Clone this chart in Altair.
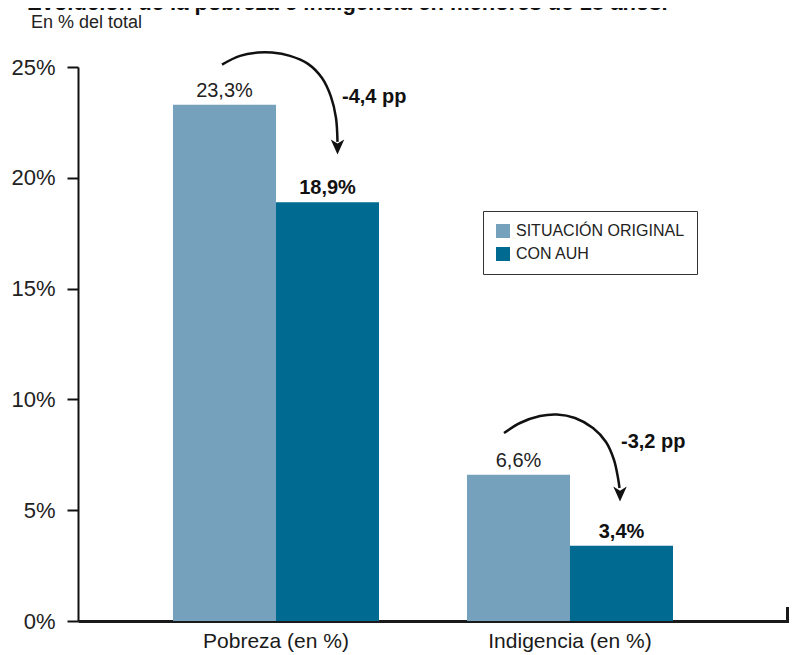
import altair as alt
import pandas as pd

# ---------------- data ----------------
categories = ["Pobreza (en %)", "Indigencia (en %)"]
series_names = ["SITUACIÓN ORIGINAL", "CON AUH"]
original = [23.3, 6.6]
con_auh = [18.9, 3.4]
y_ticks = [0, 5, 10, 15, 20, 25]

# annotation arrows: x in category units (0 = centre of first category), y in %
arrow1_x = [-0.1837, -0.1224, -0.0612, -0.0136, 0.0476, 0.1088, 0.1565, 0.1871, 0.2041, 0.2092]
arrow1_y = [25.11, 25.50, 25.65, 25.65, 25.50, 25.14, 24.50, 23.65, 22.70, 21.62]
arrow2_x = [0.7755, 0.8299, 0.8980, 0.9558, 1.0170, 1.0782, 1.1224, 1.1497, 1.1633, 1.1684]
arrow2_y = [8.484, 8.935, 9.251, 9.319, 9.161, 8.709, 8.078, 7.265, 6.453, 6.002]
head_x = [0.2092, 1.1701]
head_y = [21.39, 5.73]
change_x = [0.2245, 1.1735]
change_y = [23.375, 7.807]

title_text = "Evolución de la pobreza e indigencia en menores de 18 años."
subtitle_text = "En % del total"

LIGHT = "#75a1bc"
DARK = "#006a91"
FONT = "Liberation Sans"
INK = "#1a1a1a"

W = 711
H = 554


def fmt(v):
    return f"{v:.1f}".replace(".", ",") + "%"


rows = []
for c, o, a in zip(categories, original, con_auh):
    rows.append({"cat": c, "serie": series_names[0], "valor": o, "label": fmt(o)})
    rows.append({"cat": c, "serie": series_names[1], "valor": a, "label": fmt(a)})
df = pd.DataFrame(rows)

path_rows = []
for aid, (xs, ys) in enumerate([(arrow1_x, arrow1_y), (arrow2_x, arrow2_y)]):
    for i, (u, p) in enumerate(zip(xs, ys)):
        path_rows.append({"arrow": aid, "i": i, "u": u, "pct": p})
paths = pd.DataFrame(path_rows)
heads = pd.DataFrame({"u": head_x, "pct": head_y})
changes = pd.DataFrame({
    "u": change_x,
    "pct": change_y,
    "txt": ["-" + f"{o - a:.1f}".replace(".", ",") + " pp" for o, a in zip(original, con_auh)],
})

# ---------------- encodings ----------------
y_scale = alt.Scale(domain=[0, 25], nice=False, zero=True)
y_axis = alt.Axis(values=y_ticks, title=None, grid=False, labelExpr="datum.value + '%'",
                  domainColor="#111", domainWidth=2, tickColor="#111", tickWidth=2, tickSize=11,
                  labelPadding=12, labelFont=FONT, labelFontSize=22, labelColor="#222")
x_enc = alt.X(
    "cat:N", sort=categories,
    scale=alt.Scale(paddingInner=0.2993, paddingOuter=0.3588, align=0.4502),
    axis=alt.Axis(title=None, labelAngle=0, ticks=False, domainWidth=3, domainColor=INK,
                  labelFont=FONT, labelFontSize=21, labelColor=INK, labelPadding=9),
)
xoff = alt.XOffset("serie:N", sort=series_names, scale=alt.Scale(paddingInner=0, paddingOuter=0))
y_enc = alt.Y("valor:Q", scale=y_scale, axis=y_axis)

bars = alt.Chart(df).mark_bar().encode(
    x=x_enc, xOffset=xoff, y=y_enc,
    color=alt.Color(
        "serie:N", sort=series_names,
        scale=alt.Scale(domain=series_names, range=[LIGHT, DARK]),
        legend=alt.Legend(title=None, orient="none", legendX=405, legendY=144,
                          symbolType="square", symbolSize=196, symbolStrokeWidth=0,
                          labelFont=FONT, labelFontSize=16, labelColor="#222",
                          padding=12, rowPadding=7, strokeColor="#333", fillColor="white",
                          labelOffset=5, labelLimit=400),
    ),
)

text_orig = alt.Chart(df).transform_filter(alt.datum.serie == series_names[0]).mark_text(
    dy=-8, baseline="alphabetic", fontSize=20, font=FONT, color="#222"
).encode(x=x_enc, xOffset=xoff, y=y_enc, text="label:N")

text_auh = alt.Chart(df).transform_filter(alt.datum.serie == series_names[1]).mark_text(
    dy=-8, baseline="alphabetic", fontSize=20, font=FONT, fontWeight="bold", color="#111"
).encode(x=x_enc, xOffset=xoff, y=y_enc, text="label:N")

bar_group = alt.layer(bars, text_orig, text_auh)

ux = alt.X("u:Q", scale=alt.Scale(domain=[-0.6735, 1.7449], nice=False, zero=False), axis=None)
uy = alt.Y("pct:Q", scale=y_scale, axis=y_axis)

lines = alt.Chart(paths).mark_line(interpolate="catmull-rom", color="#111", strokeWidth=2.5).encode(
    x=ux, y=uy, detail="arrow:N", order="i:Q"
)
arrowheads = alt.Chart(heads).mark_point(
    shape="M-0.9,-1L0,-0.45L0.9,-1L0,1Z", filled=True, size=225, color="#111", opacity=1
).encode(x=ux, y=uy)
change_text = alt.Chart(changes).mark_text(
    align="left", baseline="alphabetic", fontSize=20, font=FONT, fontWeight="bold", color="#111"
).encode(x=ux, y=uy, text="txt:N")

# small closing tick at the right end of the baseline
end_tick = alt.Chart(heads).mark_rule(color=INK, strokeWidth=3).encode(
    x=alt.value(W - 1.5), y=alt.value(H - 14), y2=alt.value(H + 1.5)
)

title = alt.Chart(pd.DataFrame({"t": [title_text]})).mark_text(
    align="left", baseline="alphabetic", fontSize=22, font=FONT, fontWeight="bold", color="#111"
).encode(x=alt.value(-51), y=alt.value(-57), text="t:N")
subtitle = alt.Chart(pd.DataFrame({"t": [subtitle_text]})).mark_text(
    align="left", baseline="alphabetic", fontSize=18, font=FONT, color="#222"
).encode(x=alt.value(-47), y=alt.value(-39), text="t:N")

anno_group = alt.layer(lines, arrowheads, change_text, end_tick, title, subtitle)

chart = alt.layer(bar_group, anno_group).resolve_scale(x="independent").properties(
    width=W, height=H,
    autosize=alt.AutoSizeParams(type="none"),
    padding={"left": 70, "top": 59, "right": 0, "bottom": 34},
).configure_view(stroke=None)

chart.save("out.html", embed_options={"renderer": "svg", "actions": False})
